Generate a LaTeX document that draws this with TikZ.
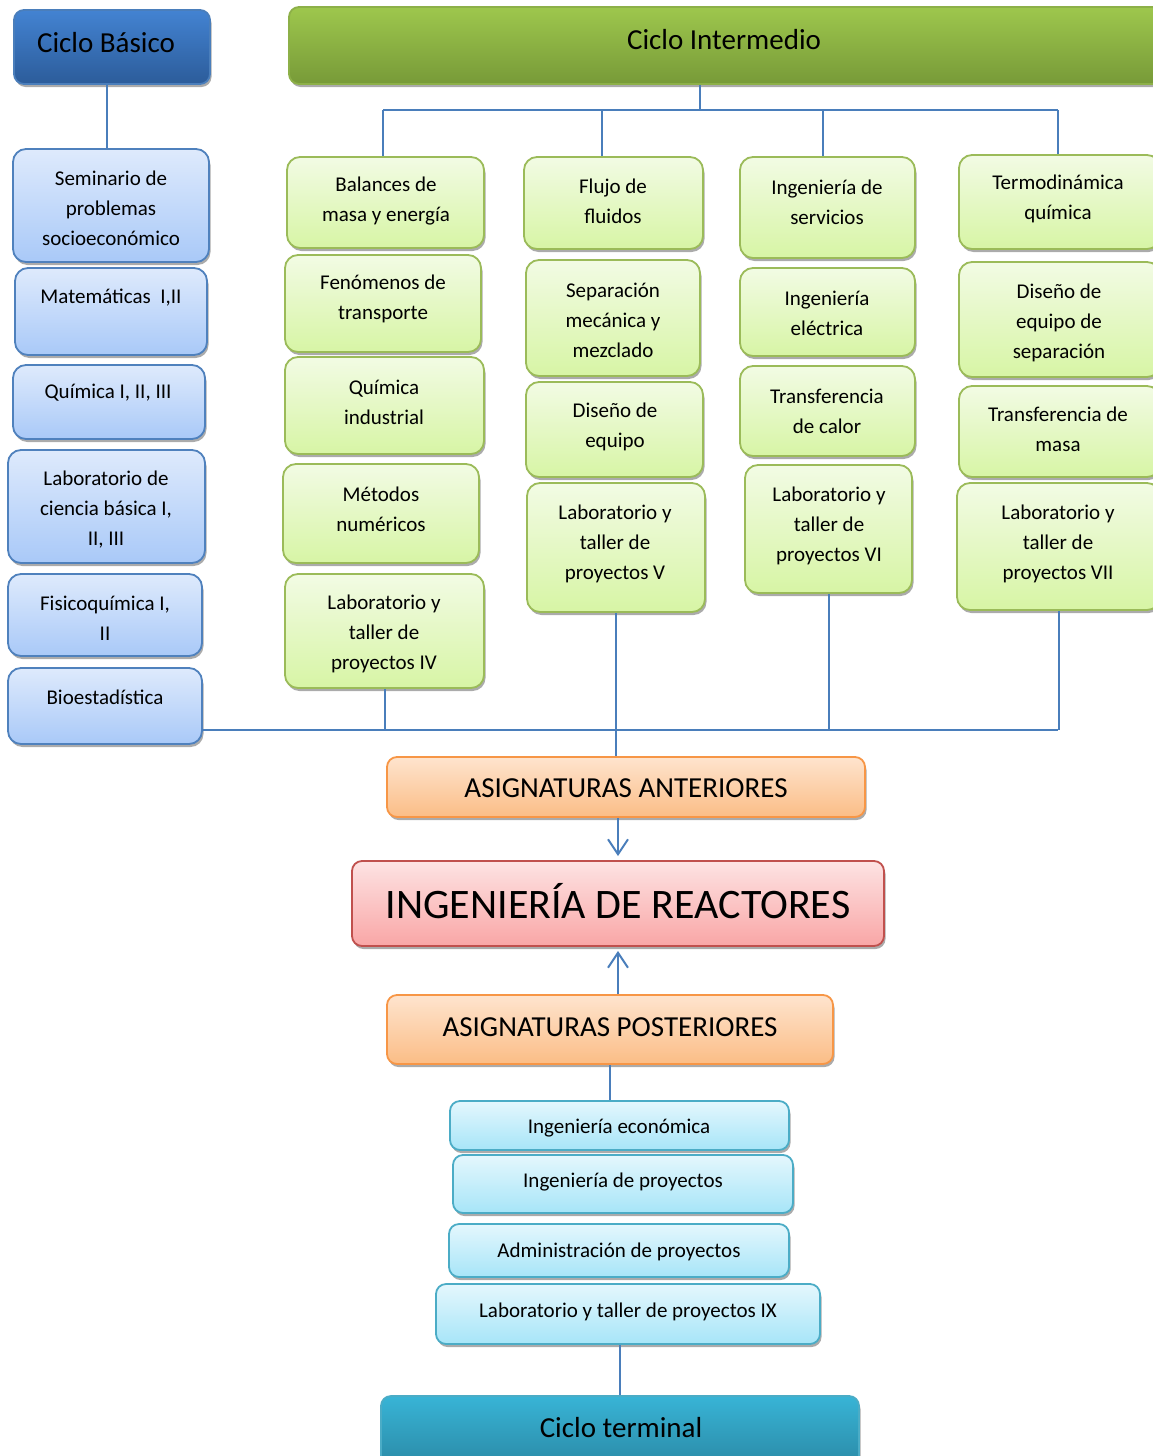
\documentclass[tikz,border=0pt]{standalone}
\usepackage{fontspec}
\setmainfont{Carlito}
\usetikzlibrary{shadows,arrows.meta}
\definecolor{ln}{HTML}{4A7EBB}
\definecolor{dbT}{HTML}{4383D2}\definecolor{dbB}{HTML}{2C5C9A}\definecolor{dbD}{HTML}{4A7EBB}
\definecolor{dgT}{HTML}{9EC74D}\definecolor{dgB}{HTML}{779A38}\definecolor{dgD}{HTML}{8DB048}
\definecolor{dcT}{HTML}{38B4D6}\definecolor{dcB}{HTML}{2A88A4}\definecolor{dcD}{HTML}{4BACC6}
\definecolor{lbT}{HTML}{DEEAFC}\definecolor{lbB}{HTML}{A9C9F8}\definecolor{lbD}{HTML}{4F81BD}
\definecolor{lgT}{HTML}{F2FBE4}\definecolor{lgB}{HTML}{D7F5A5}\definecolor{lgD}{HTML}{9BBB59}
\definecolor{orT}{HTML}{FEE4CE}\definecolor{orB}{HTML}{FBBD86}\definecolor{orD}{HTML}{F79646}
\definecolor{rdT}{HTML}{FDE3E3}\definecolor{rdB}{HTML}{F9A6A6}\definecolor{rdD}{HTML}{C0504D}
\definecolor{cyT}{HTML}{E4F7FD}\definecolor{cyB}{HTML}{A7E5F8}\definecolor{cyD}{HTML}{4BACC6}
\newcommand\fbig{\fontsize{29}{35}\selectfont}
\newcommand\fhuger{\fontsize{42}{50}\selectfont}
% name, style, x1, y1, x2, y2, text x, text y, text
\newcommand\bx[9]{%
  \node[#2, minimum width={#5-#3}, minimum height={#6-#4}] (#1) at ({(#3+#5)/2},{(#4+#6)/2}) {};
  \node[txt] (#1t) at (#7,#8) {#9};
}
\begin{document}
\begin{tikzpicture}[x=1pt,y=-1pt,
  base/.style={rectangle, rounded corners=13pt, line width=1.8pt, inner sep=0pt,
    drop shadow={shadow xshift=1.5pt,shadow yshift=-3pt,fill=black!55,opacity=0.6}},
  db/.style={base, rounded corners=10pt, draw=dbD, top color=dbT, bottom color=dbB},
  dg/.style={base, rounded corners=10pt, draw=dgD, top color=dgT, bottom color=dgB},
  dc/.style={base, rounded corners=10pt, draw=dcD, top color=dcT, bottom color=dcB},
  lb/.style={base, draw=lbD, top color=lbT, bottom color=lbB},
  lg/.style={base, draw=lgD, top color=lgT, bottom color=lgB},
  or/.style={base, rounded corners=10pt, draw=orD, top color=orT, bottom color=orB},
  rd/.style={base, rounded corners=10pt, draw=rdD, top color=rdT, bottom color=rdB},
  cy/.style={base, rounded corners=10pt, draw=cyD, top color=cyT, bottom color=cyB},
  txt/.style={align=center, font=\fontsize{21}{30}\selectfont, inner sep=0pt, yshift=-2pt},
  conn/.style={draw=ln, line width=2pt},
  arr/.style={conn, -{Straight Barb[length=15pt,width=20pt]}, shorten >=4pt}
]
\useasboundingbox (0,0) rectangle (1153,1456);
\clip (0,0) rectangle (1153,1456);

% Ciclo basico column
\bx{cb}{db}{14}{10}{210}{84}{106}{41}{\fbig Ciclo Básico}
\bx{sem}{lb}{13}{149}{209}{262}{111}{206}{Seminario de\\problemas\\socioeconómico}
\bx{mat}{lb}{15}{268}{207}{355}{111}{296}{Matemáticas\ \ I,II}
\bx{qui}{lb}{13}{365}{205}{439}{108}{391}{Química I, II, III}
\bx{lcb}{lb}{8}{450}{205}{563}{106}{508}{Laboratorio de\\ciencia básica I,\\II, III}
\bx{fis}{lb}{8}{574}{202}{656}{105}{616}{Fisicoquímica I,\\II}
\bx{bio}{lb}{8}{668}{202}{744}{105}{695}{Bioestadística}

% Ciclo intermedio
\bx{ci}{dg}{289}{7}{1162}{84}{724}{38}{\fbig Ciclo Intermedio}
\bx{bal}{lg}{287}{157}{484}{248}{386}{199}{Balances de\\masa y energía}
\bx{fen}{lg}{285}{255}{481}{352}{383}{297}{Fenómenos de\\transporte}
\bx{qin}{lg}{285}{357}{484}{454}{384}{400}{Química\\industrial}
\bx{met}{lg}{283}{464}{479}{563}{381}{507}{Métodos\\numéricos}
\bx{lfour}{lg}{285}{574}{484}{688}{384}{632}{Laboratorio y\\taller de\\proyectos IV}
\bx{flu}{lg}{524}{157}{703}{249}{613}{199}{Flujo de\\fluidos}
\bx{sep}{lg}{526}{260}{700}{376}{613}{318}{Separación\\mecánica y\\mezclado}
\bx{dis}{lg}{526}{382}{703}{477}{615}{425}{Diseño de\\equipo}
\bx{lfive}{lg}{527}{483}{705}{612}{615}{542}{Laboratorio y\\taller de\\proyectos V}
\bx{srv}{lg}{740}{157}{915}{258}{827}{200}{Ingeniería de\\servicios}
\bx{ele}{lg}{740}{268}{915}{356}{827}{311}{Ingeniería\\eléctrica}
\bx{cal}{lg}{740}{366}{915}{456}{827}{409}{Transferencia\\de calor}
\bx{lsix}{lg}{745}{465}{912}{593}{829}{524}{Laboratorio y\\taller de\\proyectos VI}
\bx{ter}{lg}{959}{155}{1160}{249}{1058}{197}{Termodinámica\\química}
\bx{dse}{lg}{959}{262}{1160}{377}{1059}{321}{Diseño de\\equipo de\\separación}
\bx{mas}{lg}{959}{386}{1160}{477}{1058}{427}{Transferencia de\\masa}
\bx{lsev}{lg}{957}{483}{1160}{610}{1058}{542}{Laboratorio y\\taller de\\proyectos VII}

% centre
\bx{ant}{or}{387}{757}{865}{817}{626}{786}{\fbig ASIGNATURAS ANTERIORES}
\bx{rea}{rd}{352}{861}{884}{946}{618}{899}{\fhuger INGENIERÍA DE REACTORES}
\bx{pos}{or}{387}{995}{833}{1064}{610}{1025}{\fbig ASIGNATURAS POSTERIORES}

% terminal
\bx{eco}{cy}{450}{1101}{789}{1150}{619}{1126}{Ingeniería económica}
\bx{pro}{cy}{453}{1155}{793}{1213}{623}{1180}{Ingeniería de proyectos}
\bx{adm}{cy}{449}{1224}{789}{1277}{619}{1250}{Administración de proyectos}
\bx{lnine}{cy}{436}{1284}{820}{1344}{628}{1310}{Laboratorio y taller de proyectos IX}
\bx{ct}{dc}{381}{1396}{859}{1470}{621}{1426}{\fbig Ciclo terminal}

% connectors
\coordinate (k0) at (107,120);
\draw[conn] (cb.south -| k0) -- (sem.north -| k0);

\coordinate (cj) at (700,110);
\coordinate (j1) at (383,110);
\coordinate (j2) at (602,110);
\coordinate (j3) at (823,110);
\coordinate (j4) at (1058,110);
\draw[conn] (ci.south -| cj) -- (cj);
\draw[conn] (j1) -- (j4);
\draw[conn] (j1) -- (j1 |- bal.north);
\draw[conn] (j2) -- (j2 |- flu.north);
\draw[conn] (j3) -- (j3 |- srv.north);
\draw[conn] (j4) -- (j4 |- ter.north);

\coordinate (b0) at (202,730);
\coordinate (b1) at (1058,730);
\draw[conn] (b0) -- (b1);
\draw[conn] (lfour.south) -- (lfour.south |- b0);
\draw[conn] (lfive.south) -- (lfive.south |- ant.north);
\draw[conn] (lsix.south) -- (lsix.south |- b0);
\draw[conn] (lsev.south) -- (lsev.south |- b0);

\draw[arr] (rea.north |- ant.south) -- (rea.north);
\draw[arr] (rea.south |- pos.north) -- (rea.south);
\draw[conn] (pos.south) -- (pos.south |- eco.north);
\draw[conn] (ct.north |- lnine.south) -- (ct.north);
\end{tikzpicture}
\end{document}
